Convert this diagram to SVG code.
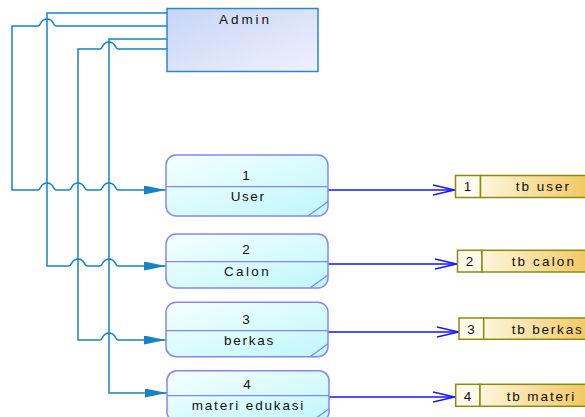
<svg xmlns="http://www.w3.org/2000/svg" width="585" height="417" viewBox="0 0 585 417">
<defs>
<linearGradient id="gAdmin" x1="0" y1="0" x2="1" y2="1"><stop offset="0" stop-color="#c6d5f6"/><stop offset="1" stop-color="#f0f0fd"/></linearGradient>
<linearGradient id="gProc" x1="0" y1="0" x2="1" y2="1"><stop offset="0" stop-color="#f6ffff"/><stop offset="1" stop-color="#bff7fb"/></linearGradient>
<linearGradient id="gStore" x1="0" y1="0" x2="1" y2="0"><stop offset="0" stop-color="#fdf6dc"/><stop offset="1" stop-color="#f0c050"/></linearGradient>
<marker id="aFill" markerUnits="userSpaceOnUse" markerWidth="23" markerHeight="10" refX="22" refY="4.5" orient="auto"><path d="M0,0 L22,4.5 L0,9 Z" fill="#1683c4"/></marker>
<marker id="aOpen" markerUnits="userSpaceOnUse" markerWidth="24" markerHeight="12" refX="22.5" refY="6" orient="auto"><path d="M0.5,1 L22,6 L0.5,11" fill="none" stroke="#1414ff" stroke-width="1.4"/></marker>
</defs>
<style>
text{font-family:"Liberation Sans",Arial,sans-serif;font-size:13.5px;fill:#111;text-anchor:middle}
.proc{fill:url(#gProc);stroke:#8585ff;stroke-width:1.5}
.pl{stroke:#8585ff;stroke-width:1.3;fill:none}
.conn{fill:none;stroke:#1683c4;stroke-width:1.5}
.flow{fill:none;stroke:#1414ff;stroke-width:1.4}
.st{stroke:#8a8a10;stroke-width:1.5}
</style>
<g id="connectors">
<path class="conn" d="M167,26 H56 C53,26 54,19 47,19 C40,19 41,26 38,26 H12 V190 H38 C41,190 40,183 47,183 C54,183 53,190 56,190 H69 C72,190 71,183 78,183 C85,183 84,190 87,190 H100 C103,190 102,183 109,183 C116,183 115,190 118,190 H166" marker-end="url(#aFill)"/>
<path class="conn" d="M167,13 H47 V266 H69 C72,266 71,259 78,259 C85,259 84,266 87,266 H100 C103,266 102,259 109,259 C116,259 115,266 118,266 H166" marker-end="url(#aFill)"/>
<path class="conn" d="M167,39 H109 V393 H167" marker-end="url(#aFill)"/>
<path class="conn" d="M167,49 H118 C115,49 116,42 109,42 C102,42 103,49 100,49 H78 V340 H100 C103,340 102,333 109,333 C116,333 115,340 118,340 H166" marker-end="url(#aFill)"/>
<path class="flow" d="M328,190 H455" marker-end="url(#aOpen)"/>
<path class="flow" d="M328,264 H457" marker-end="url(#aOpen)"/>
<path class="flow" d="M328,332 H459" marker-end="url(#aOpen)"/>
<path class="flow" d="M329,397 H455" marker-end="url(#aOpen)"/>
</g>
<g id="admin">
<rect x="167" y="8.5" width="151" height="63" fill="url(#gAdmin)" stroke="#2e86c4" stroke-width="1.5"/>
<text x="244" y="24" textLength="50" lengthAdjust="spacing">Admin</text>
</g>
<g id="p1">
<rect class="proc" x="166" y="155" width="162" height="61" rx="10"/>
<line class="pl" x1="166" y1="186.7" x2="328" y2="186.7"/>
<line class="pl" x1="308" y1="216" x2="328" y2="201.5"/>
<text x="246" y="180">1</text>
<text x="247.3" y="200.7" textLength="33.3" lengthAdjust="spacing">User</text>
</g>
<g id="p2">
<rect class="proc" x="166" y="234" width="162" height="54" rx="10"/>
<line class="pl" x1="166" y1="261.7" x2="328" y2="261.7"/>
<line class="pl" x1="310" y1="288" x2="328" y2="275"/>
<text x="246" y="253.7">2</text>
<text x="246.3" y="276" textLength="44.7" lengthAdjust="spacing">Calon</text>
</g>
<g id="p3">
<rect class="proc" x="166" y="302.3" width="162" height="54.4" rx="10"/>
<line class="pl" x1="166" y1="330.7" x2="328" y2="330.7"/>
<line class="pl" x1="310" y1="356.7" x2="328" y2="343.7"/>
<text x="246" y="324">3</text>
<text x="248.7" y="344.7" textLength="49.3" lengthAdjust="spacing">berkas</text>
</g>
<g id="p4">
<rect class="proc" x="167" y="370.7" width="162" height="51" rx="10"/>
<line class="pl" x1="167" y1="395.7" x2="329" y2="395.7"/>
<line class="pl" x1="311" y1="421.7" x2="329" y2="408.7"/>
<text x="247" y="389.3">4</text>
<text x="247.5" y="410" textLength="111.6" lengthAdjust="spacing">materi edukasi</text>
</g>
<g id="s1">
<rect class="st" x="455.5" y="175.5" width="25" height="22" fill="#fffbea"/>
<rect class="st" x="480.5" y="175.5" width="124" height="22" fill="url(#gStore)"/>
<text x="467.5" y="191">1</text>
<text x="542.3" y="191" textLength="53.3" lengthAdjust="spacing">tb user</text>
</g>
<g id="s2">
<rect class="st" x="457.5" y="250.3" width="24.5" height="21.7" fill="#fffbea"/>
<rect class="st" x="482" y="250.3" width="124" height="21.7" fill="url(#gStore)"/>
<text x="469.5" y="266">2</text>
<text x="542.8" y="266" textLength="62.3" lengthAdjust="spacing">tb calon</text>
</g>
<g id="s3">
<rect class="st" x="459" y="318" width="24.7" height="21.3" fill="#fffbea"/>
<rect class="st" x="483.7" y="318" width="124" height="21.3" fill="url(#gStore)"/>
<text x="471" y="333.5">3</text>
<text x="546.7" y="333.5" textLength="70" lengthAdjust="spacing">tb berkas</text>
</g>
<g id="s4">
<rect class="st" x="455.7" y="384.3" width="24.3" height="22" fill="#fffbea"/>
<rect class="st" x="480" y="384.3" width="124" height="22" fill="url(#gStore)"/>
<text x="467.5" y="400.5">4</text>
<text x="540.5" y="400.5" textLength="67.6" lengthAdjust="spacing">tb materi</text>
</g>
</svg>
